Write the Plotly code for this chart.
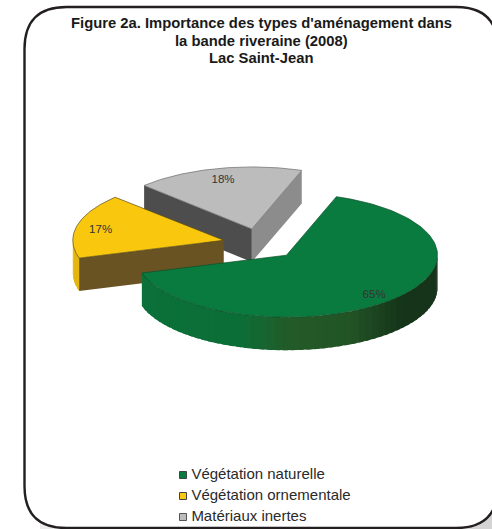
import math
import plotly.graph_objects as go

categories = ["Végétation naturelle", "Végétation ornementale", "Matériaux inertes"]
values = [65, 17, 18]
labels = ["65%", "17%", "18%"]
title_lines = ["Figure 2a. Importance des types d'aménagement dans",
               "la bande riveraine (2008)", "Lac Saint-Jean"]

colors = ["#0a7b3e", "#f9c80e", "#bcbcbc"]
edges = ["#0a4f28", "#5a4a14", "#6a6a6a"]
legend_edges = ["#444444", "#444444", "#555555"]

CX, CY, RX, RY, DEPTH, EXPLODE, START = 260.4, 244, 151, 62, 33, 0.25, 70.7
LABEL_R = 0.84


def mix(stops, x):
    for (x0, c0), (x1, c1) in zip(stops, stops[1:]):
        if x <= x1:
            f = max(0, (x - x0) / (x1 - x0))
            rgb = [round(int(c0[i:i+2], 16) * (1 - f) + int(c1[i:i+2], 16) * f) for i in (1, 3, 5)]
            return "rgb(%d,%d,%d)" % tuple(rgb)
    return stops[-1][1]


green_rim = [(130, "#0b7039"), (240, "#0c6e37"), (290, "#235a28"), (350, "#225426"), (400, "#15351a"), (445, "#15331a")]
rim_stops = [green_rim, [(0, "#e4b60e"), (500, "#e4b60e")], [(0, "#8c8c8c"), (500, "#8c8c8c")]]
face_colors = [{}, {"high": "#6a5323"}, {"low": "#8c8c8c", "high": "#4d4d4d"}]

fig = go.Figure()


def poly(xs, ys, fill, line=None, width=0.0):
    fig.add_trace(go.Scatter(x=xs, y=ys, mode="lines", fill="toself", fillcolor=fill,
                             line=dict(color=line or fill, width=width),
                             hoverinfo="skip", showlegend=False))


# Angles of every slice come from the values
total = sum(values)
slices = []
a = START
for i, v in enumerate(values):
    span = v / total * 360
    slices.append((i, a - span, a))
    a -= span

label_x, label_y = [None] * 3, [None] * 3
for i, lo, hi in [slices[2], slices[1], slices[0]]:
    mid = math.radians((lo + hi) / 2)
    ax = CX + EXPLODE * RX * math.cos(mid)
    ay = CY - EXPLODE * RY * math.sin(mid)
    pt = lambda t: (ax + RX * math.cos(math.radians(t)), ay - RY * math.sin(math.radians(t)))
    label_x[i] = ax + LABEL_R * RX * math.cos(mid)
    label_y[i] = ay - LABEL_R * RY * math.sin(mid) + 2

    # curved rim, only the part that faces the viewer; each piece overlaps the next
    n = max(2, int((hi - lo) / 3))
    step = (hi - lo) / n
    for k in range(n):
        t0 = lo + step * k
        t1 = t0 + step
        if math.sin(math.radians((t0 + t1) / 2)) < 0:
            t1b = min(hi, t1 + step * 0.6)
            if math.sin(math.radians(t1b)) > 0:
                t1b = t1
            x0, y0 = pt(t0)
            x1, y1 = pt(t1b)
            xm, ym = pt(t1)
            poly([x0, xm, x1, x1, xm, x0, x0], [y0, ym, y1, y1 + DEPTH, ym + DEPTH, y0 + DEPTH, y0],
                 mix(rim_stops[i], (x0 + xm) / 2))

    # radial side faces
    for key, ang, normal in (("low", lo, lo - 90), ("high", hi, hi + 90)):
        if math.sin(math.radians(normal)) < 0 and key in face_colors[i]:
            x1, y1 = pt(ang)
            poly([ax, x1, x1, ax, ax], [ay, y1, y1 + DEPTH, ay + DEPTH, ay], face_colors[i][key])

    # top
    ts = [lo + (hi - lo) * k / 120 for k in range(121)]
    xs = [ax] + [pt(t)[0] for t in ts] + [ax]
    ys = [ay] + [pt(t)[1] for t in ts] + [ay]
    poly(xs, ys, colors[i], edges[i], 0.7)

fig.add_trace(go.Scatter(x=label_x, y=label_y, mode="text", text=labels,
                         textfont=dict(family="Liberation Sans", size=11.5, color="#333333"),
                         hoverinfo="skip", showlegend=False))

# Legend
leg_y = [475, 496, 517]
for name, c, e, y in zip(categories, colors, legend_edges, leg_y):
    fig.add_trace(go.Scatter(x=[183], y=[y], mode="markers+text", text=["\u2009" + name],
                             textposition="middle right",
                             textfont=dict(family="Liberation Sans", size=15, color="#2a2a2a"),
                             marker=dict(symbol="square", size=7, color=c, line=dict(color=e, width=1)),
                             hoverinfo="skip", showlegend=False))

# Frame
L, T, R, B, r = 24.5, 7, 498, 528, 42
frame = (f"M {L+r} {T} L {R-r} {T} Q {R} {T} {R} {T+r} L {R} {B-r} Q {R} {B} {R-r} {B} "
         f"L {L+r} {B} Q {L} {B} {L} {B-r} L {L} {T+r} Q {L} {T} {L+r} {T} Z")
shapes = [
    dict(type="rect", xref="x", yref="y", x0=85, x1=492, y0=495, y1=529, fillcolor="#d4d4d4", line_width=0, layer="below"),
    dict(type="rect", xref="x", yref="y", x0=40, x1=85, y0=515, y1=529, fillcolor="#ececec", line_width=0, layer="below"),
    dict(type="path", xref="x", yref="y", path=frame, fillcolor="white", line=dict(color="#231f20", width=2.4), layer="below"),
]

title_y = [23, 40.5, 57.5]
annotations = [dict(text=t, x=261, y=y, xref="x", yref="y", showarrow=False, xanchor="center", yanchor="middle",
                    font=dict(family="Liberation Sans", size=14.8, color="#1a1a1a", weight="bold"))
               for t, y in zip(title_lines, title_y)]

fig.update_layout(
    width=492, height=529, margin=dict(l=0, r=0, t=0, b=0), autosize=False,
    paper_bgcolor="white", plot_bgcolor="rgba(0,0,0,0)", showlegend=False, shapes=shapes,
    annotations=annotations,
    xaxis=dict(range=[0, 492], visible=False, fixedrange=True),
    yaxis=dict(range=[529, 0], visible=False, fixedrange=True),
)
fig.write_html("out.html", config=dict(displayModeBar=False),
               post_script="document.body.style.margin='0';document.documentElement.style.overflow='hidden';")
